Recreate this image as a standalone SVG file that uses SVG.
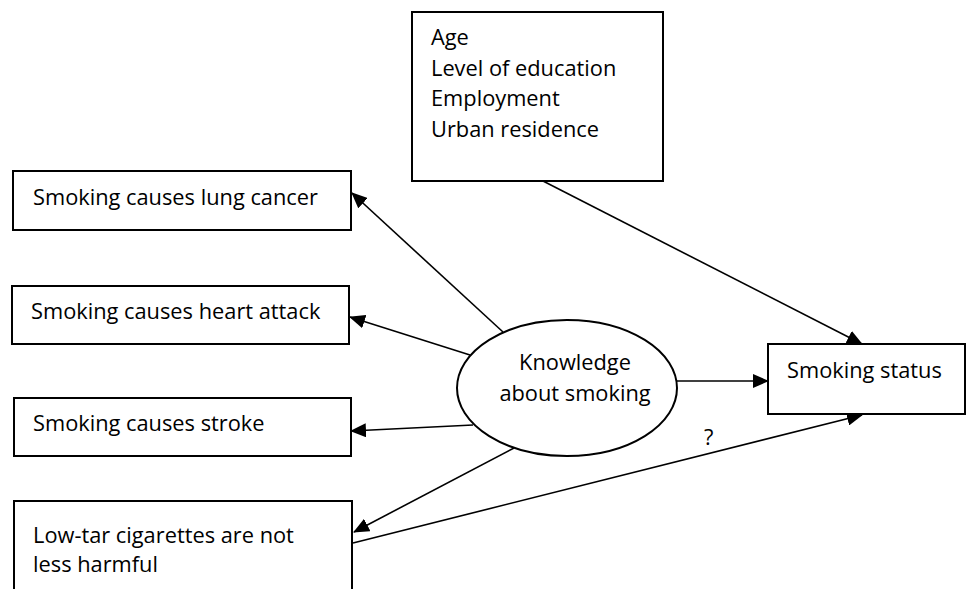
<svg xmlns="http://www.w3.org/2000/svg" width="971" height="589" viewBox="0 0 971 589">
<style>
.box{fill:#fff;stroke:#000;stroke-width:2}
.lbl{font-family:"Open Sans","Noto Sans",sans-serif;font-size:21.8px;fill:#000}
.edge{stroke:#000;stroke-width:1.6;fill:none;marker-end:url(#ah)}
</style>
<defs>
<marker id="ah" markerUnits="userSpaceOnUse" markerWidth="16" markerHeight="14" refX="15" refY="7" orient="auto">
<path d="M0,0 L16,7 L0,14 Z" fill="#000"/>
</marker>
</defs>
<rect width="971" height="589" fill="#fff"/>
<g id="connectors">
<line class="edge" x1="503" y1="332" x2="352" y2="193"/>
<line class="edge" x1="470" y1="355" x2="350" y2="317"/>
<line class="edge" x1="473" y1="425" x2="351" y2="431"/>
<line class="edge" x1="514" y1="448" x2="354" y2="532"/>
<line class="edge" x1="353" y1="543" x2="862" y2="415"/>
<line class="edge" x1="677" y1="381" x2="768" y2="381"/>
<line class="edge" x1="543" y1="181" x2="862" y2="344"/>
<text class="lbl" x="704" y="445">?</text>
</g>
<g id="covariates">
<rect class="box" x="412" y="12" width="251" height="169"/>
<text class="lbl" x="431" y="45">Age</text>
<text class="lbl" x="431" y="76">Level of education</text>
<text class="lbl" x="431" y="106">Employment</text>
<text class="lbl" x="431" y="137">Urban residence</text>
</g>
<g id="lung-cancer">
<rect class="box" x="13" y="171" width="338" height="59"/>
<text class="lbl" x="33" y="205">Smoking causes lung cancer</text>
</g>
<g id="heart-attack">
<rect class="box" x="12" y="286" width="337" height="58"/>
<text class="lbl" x="31" y="319">Smoking causes heart attack</text>
</g>
<g id="stroke">
<rect class="box" x="14" y="398" width="337" height="58"/>
<text class="lbl" x="33" y="431">Smoking causes stroke</text>
</g>
<g id="low-tar">
<rect class="box" x="14" y="501" width="338" height="110"/>
<text class="lbl" x="33" y="543">Low-tar cigarettes are not</text>
<text class="lbl" x="33" y="572">less harmful</text>
</g>
<g id="knowledge">
<ellipse class="box" cx="567" cy="388" rx="110" ry="68"/>
<text class="lbl" x="575" y="370" text-anchor="middle">Knowledge</text>
<text class="lbl" x="575" y="401" text-anchor="middle">about smoking</text>
</g>
<g id="smoking-status">
<rect class="box" x="768" y="344" width="197" height="70"/>
<text class="lbl" x="787" y="378">Smoking status</text>
</g>
</svg>
